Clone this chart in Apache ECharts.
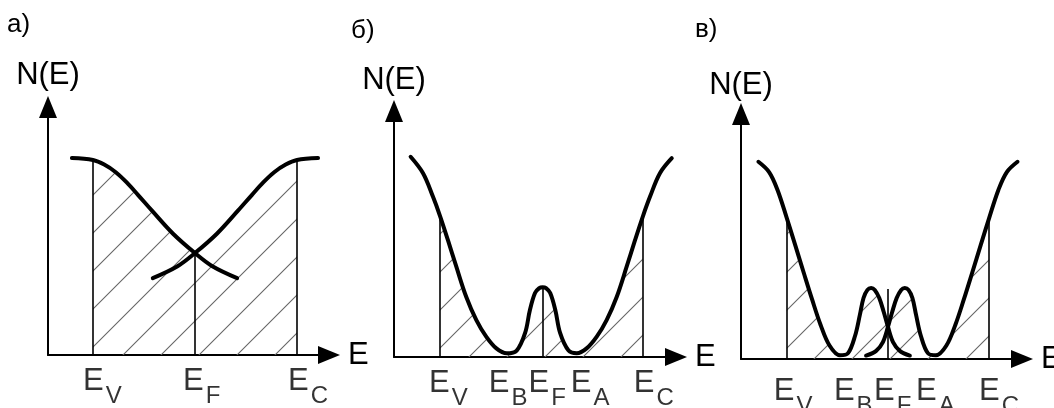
<!DOCTYPE html>
<html><head><meta charset="utf-8">
<script src="https://cdn.jsdelivr.net/npm/echarts@6/dist/echarts.min.js"></script>
<style>html,body{margin:0;padding:0;background:#fff;}#c{width:1054px;height:408px;}</style>
</head><body><div id="c"></div>
<script>
// ---------- data (energy on x, density of states N(E) on y, both 0..100 per panel) ----------
// panel a)
const aLevels = [16.0, 52.3, 88.6];
const aLevelNames = ['V', 'F', 'C'];
const aLineTops = [78.6, 41.1, 78.6];
const aFalling = [[8.5,79.4],[16.0,78.6],[20.0,76.8],[24.0,73.8],[28.0,69.6],[32.0,64.6],[37.0,58.2],[44.5,48.9],[52.3,41.1],[58.5,35.8],[67.3,31.0]];
const aRising = [[37.3,31.0],[46.1,35.8],[52.3,41.1],[60.1,48.9],[67.6,58.2],[72.6,64.6],[76.6,69.6],[80.6,73.8],[84.6,76.8],[88.6,78.6],[96.1,79.4]];
// panel б)
const bLevels = [16.3, 40.0, 52.7, 64.8, 88.2];
const bLevelNames = ['V', 'B', 'F', 'A', 'C'];
const bLines = [16.3, 52.7, 88.2];
const bLineTops = [57.4, 28.4, 57.0];
const bCurve = [[5.9,81.4],[10.3,74.7],[13.8,65.2],[16.3,57.4],[19.1,47.6],[22.1,36.7],[25.6,24.5],[29.2,15.0],[32.7,8.3],[36.3,3.5],[40.0,1.5],[43.5,2.6],[46.5,9.8],[48.2,19.1],[50.0,26.0],[51.5,28.0],[52.7,28.4],[53.9,28.0],[55.4,26.0],[57.2,19.1],[58.9,9.8],[61.9,2.6],[64.8,1.5],[68.3,3.5],[71.9,8.3],[75.4,15.0],[79.0,24.5],[82.5,36.7],[85.5,47.6],[88.2,57.0],[90.8,65.2],[94.3,74.7],[98.5,80.8]];
// panel в)
const cLevels = [16.3, 35.2, 52.3, 69.4, 88.3];
const cLevelNames = ['V', 'B', 'F', 'A', 'C'];
const cLines = [16.3, 52.3, 88.3];
const cLineTops = [57.5, 28.6, 57.5];
const cLeft = [[6.2,80.5],[10.0,76.3],[13.0,69.0],[16.3,57.5],[19.3,46.5],[22.3,35.3],[25.3,24.3],[28.3,14.0],[31.5,5.5],[35.2,1.5],[38.1,2.4],[40.6,9.5],[42.3,18.0],[43.6,24.9],[45.0,28.2],[46.3,29.0],[47.6,28.2],[49.2,24.9],[50.8,19.2],[52.3,13.1],[54.1,6.9],[56.6,3.2],[60.1,1.4]];
const cRight = [[44.5,1.4],[48.0,3.2],[50.5,6.9],[52.3,13.1],[53.8,19.2],[55.4,24.9],[57.0,28.2],[58.3,29.0],[59.6,28.2],[61.0,24.9],[62.3,18.0],[64.0,9.5],[66.5,2.4],[69.4,1.5],[73.1,5.5],[76.3,14.0],[79.3,24.3],[82.3,35.3],[85.3,46.5],[88.3,57.5],[91.6,69.0],[94.6,76.3],[98.4,80.5]];

// ---------- styling / layout ----------
const FONT = "'Liberation Sans', Arial, Helvetica, sans-serif";
const INK = '#000';

function hatch(step, phase) {
  const cv = document.createElement('canvas');
  cv.width = step; cv.height = step;
  const g = cv.getContext('2d');
  g.strokeStyle = '#666';
  g.lineWidth = 1.1;
  g.beginPath();
  for (const k of [-1, 0, 1]) {
    g.moveTo(k * step - 2, step + 2);
    g.lineTo(k * step + step + 2, -2);
  }
  g.stroke();
  return { image: cv, repeat: 'repeat', x: phase, y: 0 };
}
const between = (pts, lo, hi) => pts.filter(p => p[0] >= lo && p[0] <= hi);

const panels = [
  { title: 'a)', tLeft: 7, tTop: 12,
    grid: { left: 48, top: 107, width: 281, height: 248 }, yNameGap: 16,
    curves: [aFalling, aRising],
    hatchParts: [between(aFalling, aLevels[0], aLevels[1]), between(aRising, aLevels[1], aLevels[2])],
    lines: aLevels, lineTops: aLineTops,
    labels: aLevels, names: aLevelNames, nudges: [1, -1, 2], labelDist: 10, phase: 22 },
  { title: 'б)', tLeft: 351, tTop: 18,
    grid: { left: 394, top: 111, width: 282, height: 246 }, yNameGap: 15,
    curves: [bCurve],
    hatchParts: [between(bCurve, bLines[0], bLines[2])],
    lines: bLines, lineTops: bLineTops,
    labels: bLevels, names: bLevelNames, nudges: [0, -7, -3, 5, 2], labelDist: 10, phase: 28 },
  { title: 'в)', tLeft: 695, tTop: 17,
    grid: { left: 741, top: 114, width: 281, height: 245 }, yNameGap: 13,
    curves: [cLeft, cRight],
    hatchParts: [between(cLeft, cLines[0], cLines[1]), between(cRight, cLines[1], cLines[2])],
    lines: cLines, lineTops: cLineTops,
    labels: cLevels, names: cLevelNames, nudges: [-2, 5, -3, -9, 1], labelDist: 16, phase: 33 }
];

const option = { animation: false, backgroundColor: '#fff', title: [], grid: [], xAxis: [], yAxis: [], series: [] };

panels.forEach((p, i) => {
  option.title.push({ text: p.title, left: p.tLeft, top: p.tTop, padding: 0,
    textStyle: { fontSize: 26, fontWeight: 'normal', fontFamily: FONT, color: INK } });
  option.grid.push(Object.assign({ containLabel: false, outerBoundsMode: 'none' }, p.grid));
  const axisLine = { show: true, symbol: ['none', 'triangle'], symbolSize: [18, 22],
    lineStyle: { color: INK, width: 2 } };
  option.xAxis.push({ gridIndex: i, type: 'value', min: 0, max: 100,
    axisLine, axisTick: { show: false }, axisLabel: { show: false }, splitLine: { show: false },
    name: 'E', nameLocation: 'end', nameGap: 19,
    nameTextStyle: { fontSize: 31, fontFamily: FONT, color: INK } });
  option.yAxis.push({ gridIndex: i, type: 'value', min: 0, max: 100,
    axisLine, axisTick: { show: false }, axisLabel: { show: false }, splitLine: { show: false },
    name: 'N(E)', nameLocation: 'end', nameGap: p.yNameGap,
    nameTextStyle: { fontSize: 31, fontFamily: FONT, color: INK } });

  const pattern = hatch(38, p.phase);
  p.hatchParts.forEach((part, k) => {
    const s = { type: 'line', xAxisIndex: i, yAxisIndex: i, data: part, smooth: 0.35,
      symbol: 'none', silent: true, z: 1, lineStyle: { width: 0, opacity: 0 },
      areaStyle: { color: pattern, opacity: 1 }, emphasis: { disabled: true } };
    if (k === 0) {
      s.markLine = { silent: true, symbol: ['none', 'none'], animation: false,
        label: { show: false }, emphasis: { disabled: true },
        lineStyle: { color: INK, width: 1.6, type: 'solid' },
        data: p.lines.map((x, j) => [{ coord: [x, 0] }, { coord: [x, p.lineTops[j]] }]) };
    }
    option.series.push(s);
  });

  p.curves.forEach(c => {
    option.series.push({ type: 'line', xAxisIndex: i, yAxisIndex: i, data: c, smooth: 0.35,
      symbol: 'none', silent: true, z: 3, clip: false,
      lineStyle: { color: INK, width: 4, cap: 'round', join: 'round' },
      emphasis: { disabled: true } });
  });

  option.series.push({ type: 'scatter', xAxisIndex: i, yAxisIndex: i, silent: true, z: 4, clip: false,
    symbolSize: 1, itemStyle: { color: 'rgba(0,0,0,0)' },
    data: p.labels.map((x, j) => ({ value: [x, 0], name: p.names[j],
      label: { offset: [-11 + p.nudges[j], 0] } })),
    label: { show: true, position: 'bottom', distance: p.labelDist, align: 'left',
      formatter: d => '{e|E}{s|' + d.name + '}',
      rich: {
        e: { fontSize: 31, lineHeight: 31, fontFamily: FONT, color: INK, verticalAlign: 'top' },
        s: { fontSize: 24, lineHeight: 24, fontFamily: FONT, color: INK, verticalAlign: 'top', padding: [19, 0, 0, 2] }
      } } });
});

const chart = echarts.init(document.getElementById('c'), null, { renderer: 'canvas' });
chart.setOption(option);
</script></body></html>
